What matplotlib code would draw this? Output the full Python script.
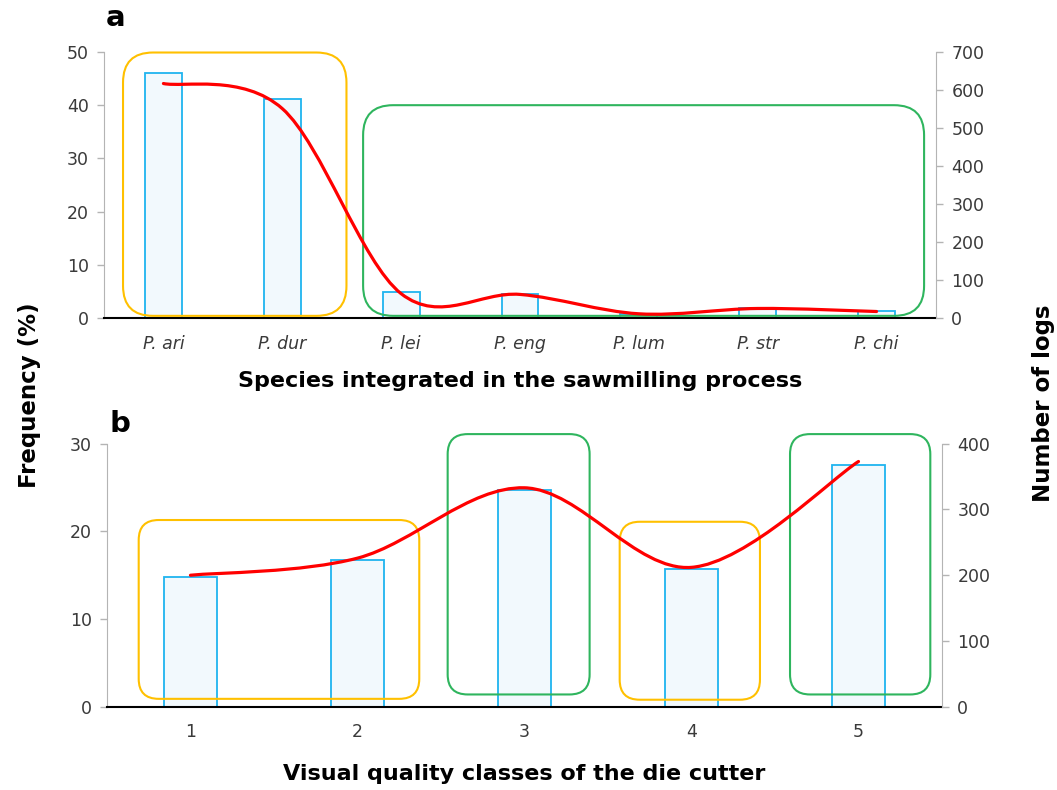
"""Species and quality class frequencies with log counts."""
import matplotlib
matplotlib.use('Agg')
import matplotlib.pyplot as plt
import numpy as np
from matplotlib.patches import FancyBboxPatch, PathPatch
from matplotlib.path import Path

# Panel a data
species = ['P. ari', 'P. dur', 'P. lei', 'P. eng', 'P. lum', 'P. str', 'P. chi']
species_freq = [46.0, 41.1, 4.8, 4.6, 0.8, 1.9, 1.3]
species_logs = [617, 551, 64, 62, 11, 25, 17]

# Panel b data
classes = ['1', '2', '3', '4', '5']
class_freq = [14.8, 16.7, 24.7, 15.7, 27.6]
class_logs = [200, 226, 333, 212, 373]

# Highlight groups: (first index, last index, colour)
YELLOW = '#ffc000'
GREEN = '#2fb55e'
species_groups = [(0, 1, YELLOW), (2, 6, GREEN)]
class_groups = [(0, 1, YELLOW), (2, 2, GREEN), (3, 3, YELLOW), (4, 4, GREEN)]

# Box extents for each group: left pad, right pad, bottom, top (left axis)
species_boxes = [(0.34, 0.54, 0.4, 49.9), (0.32, 0.40, 0.4, 40.0)]
class_boxes = [(0.31, 0.37, 0.9, 21.3), (0.46, 0.39, 1.4, 31.1),
               (0.43, 0.41, 0.8, 21.1), (0.41, 0.43, 1.4, 31.1)]

BAR_EDGE = '#1fb4ef'
BAR_FACE = '#f2f9fd'
TICK_COLOR = '#3a3a3a'
SPINE_GRAY = '#b4b4b4'


def smooth_path(xs, ys):
    """Bezier path through the points, like a spreadsheet smoothed line"""
    pts = np.column_stack([xs, ys]).astype(float)
    n = len(pts)
    verts = [pts[0]]
    codes = [Path.MOVETO]
    for i in range(n - 1):
        p0 = pts[max(i - 1, 0)]
        p1 = pts[i]
        p2 = pts[i + 1]
        p3 = pts[min(i + 2, n - 1)]
        verts += [p1 + (p2 - p0) / 6, p2 - (p3 - p1) / 6, p2]
        codes += [Path.CURVE4] * 3
    return Path(verts, codes)


def style_axes(ax, ax2):
    ax.spines['top'].set_visible(False)
    ax2.spines['top'].set_visible(False)
    ax.spines['right'].set_visible(False)
    ax2.spines['left'].set_visible(False)
    ax2.spines['bottom'].set_visible(False)
    ax.spines['left'].set_color(SPINE_GRAY)
    ax2.spines['right'].set_color(SPINE_GRAY)
    ax.spines['bottom'].set_color('black')
    ax.spines['bottom'].set_linewidth(1.5)
    ax.tick_params(axis='y', colors=SPINE_GRAY, labelcolor=TICK_COLOR,
                   length=5, width=1, pad=6, labelsize=12.5)
    ax2.tick_params(axis='y', colors=SPINE_GRAY, labelcolor=TICK_COLOR,
                    length=5, width=1, pad=6, labelsize=12.5)
    ax.tick_params(axis='x', length=0, pad=12, labelcolor=TICK_COLOR,
                   labelsize=12.5)


def draw_groups(ax, groups, boxes, radius_px):
    """Rounded boxes around groups of bars, radius given in pixels"""
    fig = ax.figure
    fig.canvas.draw()
    bbox = ax.get_window_extent()
    x0, x1 = ax.get_xlim()
    y0, y1 = ax.get_ylim()
    x_per_px = (x1 - x0) / bbox.width
    y_per_px = (y1 - y0) / bbox.height
    for (first, last, color), (pl, pr, bottom, top) in zip(groups, boxes):
        left = first - pl
        right = last + pr
        box = FancyBboxPatch((left, bottom), right - left, top - bottom,
                             boxstyle='round,pad=0,rounding_size={}'.format(
                                 radius_px * x_per_px),
                             mutation_aspect=y_per_px / x_per_px,
                             fill=False, edgecolor=color, linewidth=1.5,
                             zorder=3, clip_on=False)
        ax.add_patch(box)


fig = plt.figure(figsize=(10.57, 7.9), dpi=100)

# Panel a
ax_a = fig.add_axes([0.0984, 0.5975, 0.7871, 0.3367])
xa = np.arange(len(species))
ax_a.bar(xa, species_freq, width=0.31, color=BAR_FACE, edgecolor=BAR_EDGE,
         linewidth=1.3, zorder=2)
ax_a.set_xlim(-0.5, len(species) - 0.5)
ax_a.set_ylim(0, 50)
ax_a.set_yticks(range(0, 51, 10))
ax_a.set_xticks(xa)
ax_a.set_xticklabels(species, fontstyle='italic', fontsize=13.5)
ax_a.set_xlabel('Species integrated in the sawmilling process',
                fontsize=16, fontweight='bold', labelpad=13)
ax_a2 = ax_a.twinx()
ax_a2.set_ylim(0, 700)
ax_a2.set_yticks(range(0, 701, 100))
ax_a2.add_patch(PathPatch(smooth_path(xa, species_logs), fill=False,
                          edgecolor='#ff0000', linewidth=2.3,
                          capstyle='round'))
style_axes(ax_a, ax_a2)
draw_groups(ax_a, species_groups, species_boxes, 30)

# Panel b
ax_b = fig.add_axes([0.1012, 0.1054, 0.79, 0.3329])
xb = np.arange(len(classes))
ax_b.bar(xb, class_freq, width=0.32, color=BAR_FACE, edgecolor=BAR_EDGE,
         linewidth=1.3, zorder=2)
ax_b.set_xlim(-0.5, len(classes) - 0.5)
ax_b.set_ylim(0, 30)
ax_b.set_yticks(range(0, 31, 10))
ax_b.set_xticks(xb)
ax_b.set_xticklabels(classes)
ax_b.set_xlabel('Visual quality classes of the die cutter',
                fontsize=16, fontweight='bold', labelpad=16)
ax_b2 = ax_b.twinx()
ax_b2.set_ylim(0, 400)
ax_b2.set_yticks(range(0, 401, 100))
ax_b2.add_patch(PathPatch(smooth_path(xb, class_logs), fill=False,
                          edgecolor='#ff0000', linewidth=2.3,
                          capstyle='round'))
style_axes(ax_b, ax_b2)
draw_groups(ax_b, class_groups, class_boxes, 20)

# Shared axis titles and panel letters
fig.text(0.028, 0.5, 'Frequency (%)', rotation=90, ha='center',
         va='center', fontsize=16.5, fontweight='bold')
fig.text(0.987, 0.49, 'Number of logs', rotation=90, ha='center',
         va='center', fontsize=16.5, fontweight='bold')
fig.text(0.109, 0.977, 'a', ha='center', va='center', fontsize=21,
         fontweight='bold')
fig.text(0.113, 0.463, 'b', ha='center', va='center', fontsize=21,
         fontweight='bold')

fig.savefig('out.png', dpi=100)
